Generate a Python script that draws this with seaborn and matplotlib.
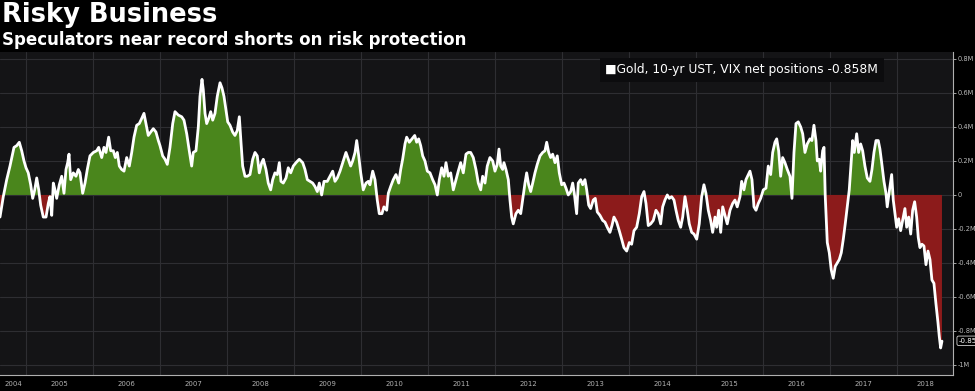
# Speculators' net positions in gold, 10-yr UST and VIX (Bloomberg-style dark chart)

import pandas as pd
import matplotlib.pyplot as plt
import seaborn as sns
from matplotlib.ticker import MultipleLocator
from matplotlib.transforms import blended_transform_factory

# 1. Data: decimal year and net position (millions).

years = [
    2004.612, 2004.661, 2004.712, 2004.761, 2004.821, 2004.861, 2004.900, 2004.936, 2004.970, 2005.000,
    2005.034, 2005.070, 2005.100, 2005.130, 2005.160, 2005.190, 2005.219, 2005.258, 2005.299, 2005.333,
    2005.358, 2005.384, 2005.408, 2005.433, 2005.458, 2005.497, 2005.533, 2005.567, 2005.597, 2005.622,
    2005.642, 2005.667, 2005.706, 2005.746, 2005.781, 2005.806, 2005.846, 2005.881, 2005.915, 2005.955,
    2006.005, 2006.055, 2006.085, 2006.130, 2006.164, 2006.194, 2006.234, 2006.264, 2006.303, 2006.333,
    2006.363, 2006.393, 2006.428, 2006.463, 2006.503, 2006.542, 2006.578, 2006.612, 2006.652, 2006.691,
    2006.727, 2006.761, 2006.791, 2006.825, 2006.861, 2006.900, 2006.940, 2006.975, 2007.000, 2007.040,
    2007.075, 2007.109, 2007.149, 2007.190, 2007.224, 2007.273, 2007.324, 2007.358, 2007.399, 2007.437,
    2007.473, 2007.497, 2007.537, 2007.572, 2007.597, 2007.627, 2007.646, 2007.672, 2007.697, 2007.727,
    2007.757, 2007.787, 2007.821, 2007.855, 2007.896, 2007.925, 2007.955, 2007.985, 2008.011, 2008.045,
    2008.085, 2008.119, 2008.154, 2008.184, 2008.209, 2008.234, 2008.269, 2008.303, 2008.343, 2008.384,
    2008.418, 2008.452, 2008.482, 2008.518, 2008.542, 2008.582, 2008.616, 2008.652, 2008.682, 2008.716,
    2008.751, 2008.781, 2008.806, 2008.840, 2008.881, 2008.915, 2008.951, 2008.990, 2009.030, 2009.079,
    2009.130, 2009.164, 2009.199, 2009.239, 2009.279, 2009.313, 2009.348, 2009.378, 2009.413, 2009.448,
    2009.497, 2009.537, 2009.578, 2009.612, 2009.646, 2009.687, 2009.727, 2009.776, 2009.811, 2009.846,
    2009.876, 2009.911, 2009.936, 2009.966, 2009.996, 2010.034, 2010.075, 2010.109, 2010.134, 2010.175,
    2010.209, 2010.243, 2010.273, 2010.313, 2010.343, 2010.384, 2010.408, 2010.443, 2010.482, 2010.522,
    2010.563, 2010.593, 2010.622, 2010.657, 2010.682, 2010.721, 2010.761, 2010.802, 2010.831, 2010.861,
    2010.891, 2010.921, 2010.955, 2010.990, 2011.030, 2011.070, 2011.105, 2011.139, 2011.169, 2011.205,
    2011.239, 2011.269, 2011.303, 2011.339, 2011.378, 2011.418, 2011.452, 2011.488, 2011.527, 2011.567,
    2011.602, 2011.637, 2011.676, 2011.716, 2011.751, 2011.787, 2011.816, 2011.851, 2011.885, 2011.925,
    2011.966, 2012.000, 2012.034, 2012.060, 2012.085, 2012.115, 2012.134, 2012.164, 2012.199, 2012.224,
    2012.249, 2012.273, 2012.313, 2012.348, 2012.384, 2012.413, 2012.448, 2012.473, 2012.503, 2012.533,
    2012.563, 2012.597, 2012.631, 2012.672, 2012.712, 2012.746, 2012.772, 2012.802, 2012.831, 2012.861,
    2012.896, 2012.930, 2012.960, 2012.996, 2013.030, 2013.060, 2013.094, 2013.130, 2013.160, 2013.184,
    2013.219, 2013.243, 2013.279, 2013.309, 2013.343, 2013.369, 2013.399, 2013.428, 2013.467, 2013.497,
    2013.527, 2013.567, 2013.608, 2013.642, 2013.676, 2013.716, 2013.746, 2013.776, 2013.816, 2013.855,
    2013.891, 2013.925, 2013.966, 2014.005, 2014.040, 2014.075, 2014.115, 2014.154, 2014.190, 2014.224,
    2014.254, 2014.288, 2014.324, 2014.363, 2014.403, 2014.437, 2014.473, 2014.503, 2014.537, 2014.572,
    2014.602, 2014.637, 2014.672, 2014.702, 2014.736, 2014.772, 2014.802, 2014.836, 2014.870, 2014.900,
    2014.936, 2014.970, 2015.011, 2015.049, 2015.085, 2015.119, 2015.149, 2015.184, 2015.219, 2015.249,
    2015.284, 2015.309, 2015.339, 2015.369, 2015.399, 2015.433, 2015.467, 2015.508, 2015.548, 2015.582,
    2015.616, 2015.657, 2015.682, 2015.716, 2015.746, 2015.781, 2015.806, 2015.836, 2015.866, 2015.896,
    2015.930, 2015.966, 2016.005, 2016.045, 2016.079, 2016.115, 2016.145, 2016.179, 2016.205, 2016.234,
    2016.264, 2016.294, 2016.328, 2016.363, 2016.403, 2016.433, 2016.463, 2016.493, 2016.527, 2016.563,
    2016.593, 2016.627, 2016.661, 2016.702, 2016.731, 2016.761, 2016.791, 2016.811, 2016.840, 2016.861,
    2016.891, 2016.911, 2016.930, 2016.960, 2016.990, 2017.019, 2017.049, 2017.079, 2017.109, 2017.139,
    2017.169, 2017.199, 2017.228, 2017.258, 2017.288, 2017.313, 2017.339, 2017.363, 2017.399, 2017.428,
    2017.458, 2017.488, 2017.522, 2017.557, 2017.597, 2017.627, 2017.657, 2017.687, 2017.721, 2017.746,
    2017.772, 2017.806, 2017.836, 2017.855, 2017.885, 2017.921, 2017.945, 2017.970, 2017.996, 2018.025,
    2018.055, 2018.085, 2018.119, 2018.145, 2018.175, 2018.205, 2018.234, 2018.264, 2018.294, 2018.318,
    2018.343, 2018.373, 2018.403, 2018.433, 2018.463, 2018.493, 2018.522, 2018.552, 2018.582, 2018.612,
    2018.631, 2018.652, 2018.672,
]

net_pos = [
    -0.13, -0.01, 0.09, 0.17, 0.28, 0.29, 0.31, 0.26, 0.20, 0.16,
    0.13, 0.06, -0.02, 0.03, 0.10, 0.03, -0.06, -0.13, -0.13, -0.05,
    -0.01, -0.12, 0.07, 0.03, -0.02, 0.06, 0.11, 0.01, 0.15, 0.19,
    0.24, 0.09, 0.13, 0.11, 0.15, 0.13, 0.01, 0.07, 0.15, 0.23,
    0.25, 0.26, 0.28, 0.22, 0.28, 0.25, 0.34, 0.26, 0.26, 0.22,
    0.25, 0.17, 0.15, 0.14, 0.22, 0.17, 0.25, 0.34, 0.41, 0.42,
    0.45, 0.48, 0.42, 0.35, 0.37, 0.39, 0.37, 0.32, 0.29, 0.23,
    0.21, 0.18, 0.28, 0.42, 0.49, 0.47, 0.46, 0.44, 0.36, 0.26,
    0.17, 0.25, 0.26, 0.40, 0.58, 0.68, 0.62, 0.48, 0.42, 0.45,
    0.49, 0.44, 0.48, 0.58, 0.66, 0.63, 0.58, 0.50, 0.43, 0.41,
    0.37, 0.35, 0.38, 0.46, 0.31, 0.17, 0.11, 0.11, 0.12, 0.21,
    0.25, 0.23, 0.13, 0.19, 0.21, 0.15, 0.07, 0.03, 0.09, 0.13,
    0.12, 0.19, 0.08, 0.07, 0.10, 0.16, 0.13, 0.17, 0.19, 0.21,
    0.19, 0.15, 0.09, 0.08, 0.07, 0.05, 0.02, 0.07, 0.00, 0.08,
    0.08, 0.11, 0.14, 0.08, 0.10, 0.14, 0.19, 0.25, 0.21, 0.17,
    0.20, 0.25, 0.32, 0.23, 0.13, 0.03, 0.07, 0.08, 0.06, 0.14,
    0.09, -0.03, -0.11, -0.11, -0.07, -0.09, 0.01, 0.05, 0.09, 0.12,
    0.07, 0.15, 0.21, 0.30, 0.34, 0.31, 0.33, 0.35, 0.31, 0.33,
    0.29, 0.23, 0.20, 0.14, 0.13, 0.09, 0.06, 0.00, 0.09, 0.16,
    0.11, 0.19, 0.11, 0.13, 0.03, 0.09, 0.14, 0.19, 0.13, 0.24,
    0.25, 0.25, 0.22, 0.15, 0.07, 0.03, 0.11, 0.07, 0.17, 0.22,
    0.20, 0.14, 0.18, 0.27, 0.17, 0.15, 0.19, 0.15, 0.09, -0.03,
    -0.13, -0.17, -0.11, -0.09, -0.11, -0.03, 0.07, 0.13, 0.06, 0.02,
    0.07, 0.13, 0.18, 0.23, 0.25, 0.26, 0.31, 0.25, 0.22, 0.24,
    0.19, 0.23, 0.13, 0.06, 0.07, 0.04, 0.00, 0.02, 0.07, 0.01,
    -0.11, 0.07, 0.09, 0.06, 0.09, 0.03, -0.06, -0.08, -0.03, -0.02,
    -0.10, -0.12, -0.15, -0.16, -0.19, -0.22, -0.18, -0.13, -0.16, -0.21,
    -0.26, -0.31, -0.33, -0.28, -0.29, -0.21, -0.19, -0.11, -0.01, 0.02,
    -0.05, -0.18, -0.17, -0.15, -0.09, -0.11, -0.17, -0.07, -0.03, 0.00,
    -0.02, -0.01, -0.03, -0.09, -0.15, -0.19, -0.13, -0.01, -0.09, -0.17,
    -0.22, -0.23, -0.26, -0.17, -0.01, 0.06, 0.01, -0.09, -0.15, -0.22,
    -0.13, -0.19, -0.09, -0.22, -0.07, -0.12, -0.17, -0.09, -0.05, -0.03,
    -0.07, -0.01, 0.08, 0.03, 0.09, 0.12, 0.14, 0.09, -0.07, -0.09,
    -0.05, -0.02, 0.03, 0.04, 0.17, 0.12, 0.25, 0.31, 0.33, 0.26,
    0.11, 0.22, 0.19, 0.15, 0.11, -0.02, 0.25, 0.42, 0.43, 0.40,
    0.36, 0.25, 0.30, 0.33, 0.32, 0.41, 0.32, 0.20, 0.21, 0.14,
    0.26, 0.28, -0.01, -0.28, -0.34, -0.44, -0.49, -0.42, -0.40, -0.38,
    -0.34, -0.26, -0.17, -0.07, 0.03, 0.17, 0.32, 0.25, 0.36, 0.25,
    0.30, 0.26, 0.17, 0.10, 0.08, 0.15, 0.25, 0.32, 0.32, 0.27,
    0.19, 0.08, 0.01, -0.07, 0.02, 0.12, -0.03, -0.11, -0.19, -0.14,
    -0.21, -0.15, -0.08, -0.19, -0.13, -0.23, -0.09, -0.04, -0.13, -0.25,
    -0.31, -0.29, -0.30, -0.41, -0.33, -0.38, -0.50, -0.52, -0.64, -0.75,
    -0.83, -0.90, -0.86,
]

year_labels = ['2004', '2005', '2006', '2007', '2008', '2009', '2010', '2011',
               '2012', '2013', '2014', '2015', '2016', '2017', '2018']
y_ticks = [0.8, 0.6, 0.4, 0.2, 0.0, -0.2, -0.4, -0.6, -0.8, -1.0]
y_tick_labels = ['0.8M', '0.6M', '0.4M', '0.2M', '0', '-0.2M', '-0.4M', '-0.6M', '-0.8M', '-1M']

title = 'Risky Business'
subtitle = 'Speculators near record shorts on risk protection'
legend_text = '\u25a0Gold, 10-yr UST, VIX net positions -0.858M'
last_value = -0.858
last_tag = '-0.85'

df = pd.DataFrame({'year': years, 'net': net_pos})

# 2. Figure and style.

sns.set_style('dark')
plt.rcParams['font.family'] = ['DejaVu Sans']

fig = plt.figure(figsize=(9.75, 3.91), dpi=100, facecolor='black')
ax = fig.add_axes([0.0, 0.041, 0.9774, 0.826])
ax.set_facecolor('#141416')

# 3. Filled areas and the line.

ax.fill_between(df['year'], df['net'], 0, where=df['net'] >= 0, interpolate=True,
                color='#4a861c', lw=0)
ax.fill_between(df['year'], df['net'], 0, where=df['net'] <= 0, interpolate=True,
                color='#8c1b1b', lw=0)
sns.lineplot(data=df, x='year', y='net', color='white', lw=2.0, ax=ax)

# 4. Axes.

x_min, x_max = 2004.612, 2018.836
ax.set_xlim(x_min, x_max)
ax.set_ylim(-1.059, 0.841)
ax.set_xlabel('')
ax.set_ylabel('')

ax.set_xticks(list(range(2005, 2019)))
ax.set_xticklabels([])
ax.xaxis.set_minor_locator(MultipleLocator(0.25))
ax.tick_params(axis='x', which='major', direction='out', length=12, width=0.6, color='#4a4a4a')
ax.tick_params(axis='x', which='minor', direction='in', length=2, width=0.6, color='#c0c0c0')

ax.yaxis.tick_right()
ax.set_yticks(y_ticks)
ax.set_yticklabels(y_tick_labels)
ax.tick_params(axis='y', which='major', direction='out', length=2.5, width=0.6,
               color='#c0c0c0', labelcolor='#b8b8b8', labelsize=4.8, pad=0.8)

ax.grid(True, which='major', color='#2e2e32', lw=0.8)
for side in ['top', 'left']:
    ax.spines[side].set_visible(False)
for side in ['bottom', 'right']:
    ax.spines[side].set_visible(True)
    ax.spines[side].set_color('#b0b0b0')
    ax.spines[side].set_linewidth(0.8)

# year labels centred on the visible part of each year
trans = blended_transform_factory(ax.transData, fig.transFigure)
for lab in year_labels:
    start = max(float(lab), x_min)
    end = min(float(lab) + 1, x_max)
    ax.text((start + end) / 2, 0.018, lab, transform=trans, ha='center', va='center',
            color='#b0b0b0', fontsize=5)

# last value tag on the right axis
ax.text(1.006, last_value, last_tag, transform=ax.get_yaxis_transform(), ha='left', va='center',
        color='white', fontsize=5,
        bbox=dict(boxstyle='round,pad=0.25', fc='black', ec='#d0d0d0', lw=0.6))

# legend box
fig.text(0.621, 0.821, legend_text, color='white', fontsize=8.8, ha='left', va='center',
         bbox=dict(boxstyle='square,pad=0.45', fc='#0c0c0e', ec='none'))

# 5. Titles.

fig.text(0.002, 1 - 15 / 391, title, color='white', fontsize=18.5, fontweight='bold',
         ha='left', va='center')
fig.text(0.002, 1 - 40 / 391, subtitle, color='white', fontsize=12, fontweight='bold',
         ha='left', va='center')

fig.savefig('out.png', dpi=100, facecolor=fig.get_facecolor())
